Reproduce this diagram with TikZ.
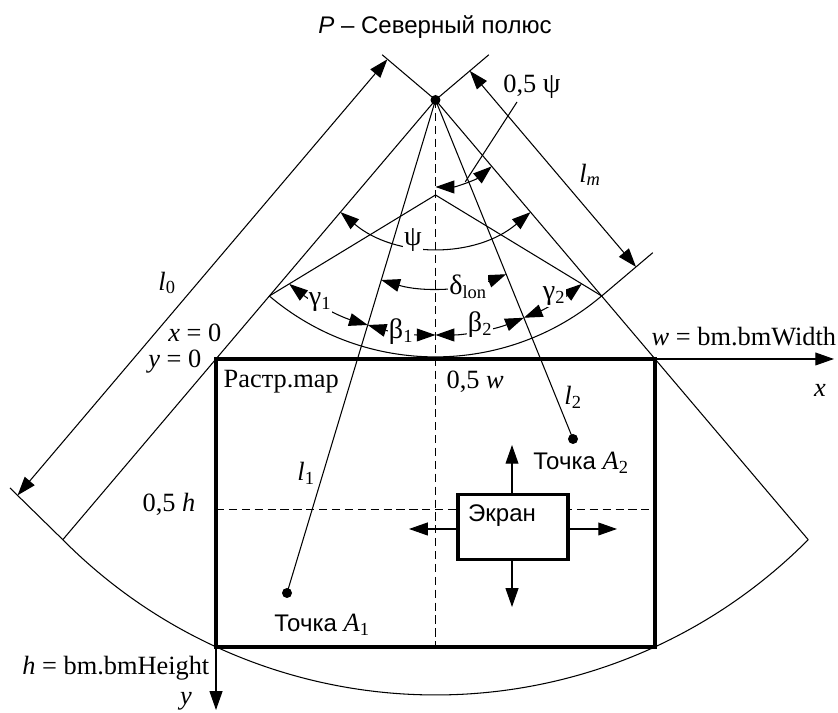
\documentclass[tikz,border=0pt]{standalone}
\usepackage{fontspec}
\setmainfont{Liberation Serif}
\setsansfont{Liberation Sans}
\usetikzlibrary{arrows.meta,calc}
\newcommand{\tsub}[1]{\textsubscript{#1}}
\newcommand{\grk}[1]{{\fontsize{24}{28}\selectfont #1}}
\begin{document}
\begin{tikzpicture}[x=0.03cm,y=0.03cm, line width=0.9pt,
  tip/.style={-{Triangle[length=16pt,width=11pt]}},
  dtip/.style={{Triangle[length=16pt,width=11pt]}-{Triangle[length=16pt,width=11pt]}},
  lbl/.style={font=\fontsize{22.5}{26}\selectfont, inner sep=1pt},
  wlbl/.style={lbl, fill=white},
  sflbl/.style={font=\sffamily\fontsize{20.5}{24}\selectfont, inner sep=1pt},
  heavy/.style={line width=3.2pt},
  dsh/.style={dash pattern=on 7pt off 4pt, line width=0.7pt}]
\useasboundingbox (0,0) rectangle (838,713);

% key points
\coordinate (P) at (435.5,613);
\coordinate (TL) at (216,354);
\coordinate (TR) at (655,354);
\coordinate (BLc) at (216,66);
\coordinate (BRc) at (655,66);
\coordinate (BC) at (435.5,66);
\coordinate (AL) at (62.8,173.3);
\coordinate (AR) at (808.2,173.3);
\coordinate (ML) at (269.3,417);
\coordinate (MR) at (601.7,417);
\coordinate (Apex) at (435.5,518);
\coordinate (TkL) at (382.1,658.3);
\coordinate (TkR) at (488.9,658.3);
\coordinate (TkB) at (10,225);
\coordinate (TkM) at (652.8,460.3);
\coordinate (L0a) at (387.4,653.7);
\coordinate (L0b) at (17.6,217.7);
\coordinate (LMa) at (469.8,642.1);
\coordinate (LMb) at (636,446.1);
\coordinate (A1) at (287,120);
\coordinate (A2) at (573,274);
\coordinate (HL) at (216,204);
\coordinate (HR) at (655,204);
\coordinate (Xend) at (834,354);
\coordinate (Yend) at (216,3);
\coordinate (LdA) at (517,611);
\coordinate (LdB) at (465.3,531.2);

% sector
\draw (AL) arc[start angle=224.77, end angle=315.23, radius=525];
\draw (AL) -- (P) -- (AR);
\draw (ML) arc[start angle=229.72, end angle=310.28, radius=257];
\draw (ML) -- (Apex) -- (MR);

% extension lines
\draw (TkL) -- (P) -- (TkR);
\draw (AL) -- (TkB);
\draw (MR) -- (TkM);

% dimensions
\draw[dtip] (L0a) -- (L0b);
\draw[dtip] (LMa) -- (LMb);
\node[lbl] (l0) at (167,430) {\textit{l}\tsub{0}};
\node[lbl] (lm) at (590,538) {\textit{l}\tsub{\textit{m}}};

% dashed axes of symmetry
\draw[dsh] (P) -- (BC);
\draw[dsh] (HL) -- (HR);

% raster map
\draw[heavy] (TL) rectangle (BRc);
\draw[tip] (TR) -- (Xend);
\draw[tip] (BLc) -- (Yend);

% lines to points
\draw (P) -- (A1);
\draw (P) -- (A2);
\fill (P) circle[radius=5];
\fill (A1) circle[radius=5];
\fill (A2) circle[radius=5];

% angle arcs
\draw[dtip] (P) ++(270:87) arc[start angle=270, end angle=310.28, radius=87];
\draw (LdA) -- (LdB);
\draw[dtip] (P) ++(229.72:147) arc[start angle=229.72, end angle=310.28, radius=147];
\draw[dtip] (P) ++(253.24:188) arc[start angle=253.24, end angle=292.07, radius=188];
\draw[dtip] (P) ++(231.5:235) arc[start angle=231.5, end angle=253.24, radius=235];
\draw[dtip] (P) ++(253.24:235) arc[start angle=253.24, end angle=270, radius=235];
\draw[dtip] (P) ++(270:235) arc[start angle=270, end angle=292.07, radius=235];
\draw[dtip] (P) ++(292.07:235) arc[start angle=292.07, end angle=308.5, radius=235];

\node[wlbl] (psi) at (413,473) {\grk{ψ}};
\node[wlbl] (dl) at (468,426) {\grk{δ}\tsub{lon}};
\node[wlbl] (g1) at (320,411) {\grk{γ}\tsub{1}};
\node[wlbl] (b1) at (401,381) {\grk{β}\tsub{1}};
\node[wlbl] (b2) at (480,388) {\grk{β}\tsub{2}};
\node[wlbl] (g2) at (554,417) {\grk{γ}\tsub{2}};
\node[lbl] (hpsi) at (532,626) {0,5 \grk{ψ}};

% screen
\node[draw, heavy, fill=white, minimum width=3.3cm, minimum height=1.95cm, inner sep=0pt] (scr) at (513,186) {};
\node[sflbl] (scrt) at (502,197) {Экран};
\coordinate (Su) at (512,268);
\coordinate (Sd) at (512,106);
\coordinate (Sr) at (617,184);
\coordinate (Sl) at (409,184);
\draw[tip] (scr.north -| Su) -- (Su);
\draw[tip] (scr.south -| Sd) -- (Sd);
\draw[tip] (scr.east |- Sr) -- (Sr);
\draw[tip] (scr.west |- Sl) -- (Sl);

% texts
\node[sflbl] (title) at (435,686) {\textit{P} – Северный полюс};
\node[lbl, anchor=east] (x0) at (223,380) {\textit{x} = 0};
\node[lbl, anchor=east] (y0) at (203,351) {\textit{y} = 0};
\node[lbl, anchor=west] (wlab) at (650,376) {\textit{w} = bm.bmWidth};
\node[lbl] (xl) at (820,323) {\textit{x}};
\node[lbl, anchor=west] (rm) at (222,331) {Растр.map};
\node[lbl, anchor=west] (hw) at (445,331) {0,5 \textit{w}};
\node[lbl] (l2) at (573,316) {\textit{l}\tsub{2}};
\node[lbl] (l1) at (306,240) {\textit{l}\tsub{1}};
\node[lbl, anchor=east] (hh) at (197,209) {0,5 \textit{h}};
\node[sflbl] (pa2) at (581,250) {Точка \rmfamily\fontsize{22.5}{26}\selectfont\textit{A}\tsub{2}};
\node[sflbl] (pa1) at (322,88) {Точка \rmfamily\fontsize{22.5}{26}\selectfont\textit{A}\tsub{1}};
\node[lbl, anchor=east] (hlab) at (211,45) {\textit{h} = bm.bmHeight};
\node[lbl] (yl) at (186,12) {\textit{y}};
\end{tikzpicture}
\end{document}
